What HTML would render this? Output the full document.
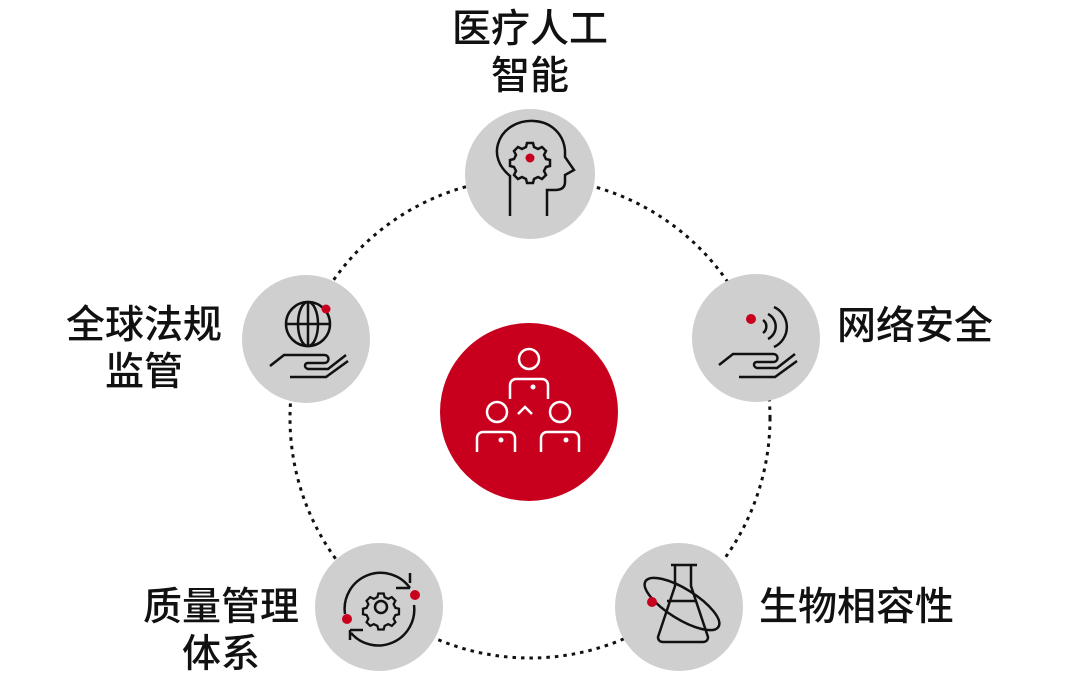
<!DOCTYPE html>
<html><head><meta charset="utf-8"><style>
body{margin:0;background:#fff;}
svg{display:block;}
text{font-family:"Liberation Sans","Noto Sans CJK SC",sans-serif;font-size:39px;fill:#111;font-weight:500;}
</style></head><body>
<svg width="1080" height="696" viewBox="0 0 1080 696" xmlns="http://www.w3.org/2000/svg">
<defs>
<path id="gear" d="M-3-15 h6 l1 4 l4 2 l4-2 l4 4 l-2 4 l2 4 l4 1 v6 l-4 1 l-2 4 l2 4 l-4 4 l-4-2 l-4 2 l-1 4 h-6 l-1-4 l-4-2 l-4 2 l-4-4 l2-4 l-2-4 l-4-1 v-6 l4-1 l2-4 l-2-4 l4-4 l4 2 l4-2 z"/>
</defs>
<circle cx="530" cy="418" r="240" fill="none" stroke="#111" stroke-width="3" stroke-dasharray="3.5 5"/>
<g fill="#cfcfcf">
<circle cx="530" cy="174" r="65"/>
<circle cx="756" cy="338" r="64"/>
<circle cx="306" cy="339" r="64"/>
<circle cx="379" cy="607" r="64"/>
<circle cx="679" cy="607" r="64"/>
</g>
<circle cx="529" cy="412" r="89" fill="#c8001e"/>
<g fill="none" stroke="#fff" stroke-width="2.5">
<circle cx="529" cy="359" r="10"/>
<path d="M510 399 v-14 a6 6 0 0 1 6-6 h26 a6 6 0 0 1 6 6 v14"/>
<circle cx="497" cy="412" r="10"/>
<path d="M477 452 v-14 a6 6 0 0 1 6-6 h26 a6 6 0 0 1 6 6 v14"/>
<circle cx="560" cy="412" r="10"/>
<path d="M541 452 v-14 a6 6 0 0 1 6-6 h26 a6 6 0 0 1 6 6 v14"/>
<path d="M518 414 l7-7 l7 7"/>
</g>
<g fill="#fff"><circle cx="533" cy="387" r="2.5"/><circle cx="501" cy="440" r="2.5"/><circle cx="566" cy="440" r="2.5"/></g>
<g fill="none" stroke="#111" stroke-width="2.5">
<path d="M510 216 v-40 c-12-10 -15-22 -12-32 c5-17 22-24 36-23 c18 1 30 14 31 30 l0 6 l9 13 l-9 5 v7 c0 6 -4 8 -10 8 h-8 v26"/>
<use href="#gear" transform="translate(530 158)"/>
</g>
<circle cx="530" cy="158" r="4.5" fill="#c8001e"/>
<g fill="none" stroke="#111" stroke-width="2.5">
<path d="M763 320 a8 8 0 0 1 0 13 M768 314 a14 14 0 0 1 0 25 M774 307 a22 22 0 0 1 0 40"/>
<path d="M719 365 l14-11 h40 c6 0 6 8 0 8 h-16 c-4 0 -4 5 0 6 l20 0 l18-14 M739 377 h36 l22-16"/>
</g>
<circle cx="751" cy="319" r="5" fill="#c8001e"/>
<g fill="none" stroke="#111" stroke-width="2.5">
<circle cx="308" cy="324" r="22"/>
<ellipse cx="308" cy="324" rx="10" ry="22"/>
<path d="M308 302 v44 M286 324 h44"/>
<path d="M270 366 l14-11 h40 c6 0 6 8 0 8 h-16 c-4 0 -4 5 0 6 l20 0 l18-14 M290 377 h36 l22-16"/>
</g>
<circle cx="326" cy="309" r="4.5" fill="#c8001e"/>
<g fill="none" stroke="#111" stroke-width="2.5">
<path d="M345 614 a36 36 0 0 1 65-26 M410 583 v-10 M396 588 h14"/>
<path d="M414 605 a36 36 0 0 1 -63 28 M350 640 v-10 M350 630 h13"/>
<use href="#gear" transform="translate(381 607) scale(0.9)"/>
<circle cx="381" cy="607" r="6"/>
</g>
<circle cx="415" cy="595" r="5" fill="#c8001e"/><circle cx="347" cy="619" r="5" fill="#c8001e"/>
<g fill="none" stroke="#111" stroke-width="2.5">
<path d="M671 565 h26 M675 565 v21 l-17 51 c0 3 2 5 5 5 h40 c3 0 5 -2 5 -5 l-17 -51 v-21 M667 601 h28"/>
<ellipse cx="682" cy="604" rx="43" ry="15" transform="rotate(32 682 604)"/>
</g>
<circle cx="652" cy="602" r="5" fill="#c8001e"/>
<text x="530" y="42" text-anchor="middle">医疗人工</text>
<text x="530" y="89" text-anchor="middle">智能</text>
<text x="837" y="339">网络安全</text>
<text x="144" y="338" text-anchor="middle">全球法规</text>
<text x="144" y="385" text-anchor="middle">监管</text>
<text x="221" y="620" text-anchor="middle">质量管理</text>
<text x="221" y="667" text-anchor="middle">体系</text>
<text x="759" y="620">生物相容性</text>
</svg>
</body></html>
